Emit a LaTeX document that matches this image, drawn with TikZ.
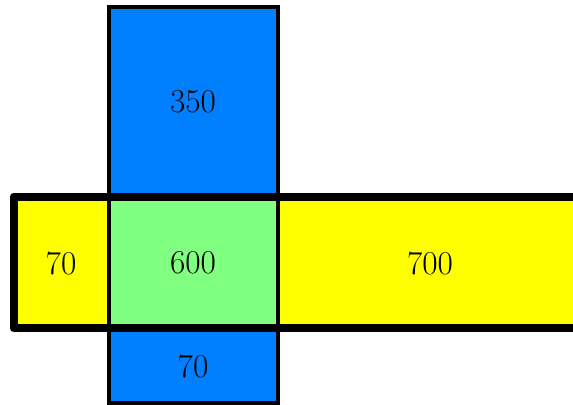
\documentclass[tikz,border=0pt]{standalone}
\definecolor{cblue}{RGB}{0,128,255}
\definecolor{cgreen}{RGB}{128,255,128}
\definecolor{cyellow}{RGB}{255,255,0}
\tikzset{
  lbl/.style={font=\fontsize{25}{30}\selectfont, text=black},
  thinbox/.style={draw=black, line width=3pt},
  bandbox/.style={draw=black, line width=6pt, line join=round},
}
\begin{document}
\begin{tikzpicture}[x=0.75pt,y=-0.75pt]
\useasboundingbox (0,0) rectangle (573,404);
\clip (0,0) rectangle (573,404);
% blue column
\fill[cblue] (108.5,6.5) rectangle (278,403);
\draw[thinbox] (108.5,6.5) rectangle (278,403);
% band pieces
\fill[cyellow] (13.5,196.5) rectangle (108.5,328);
\fill[cgreen] (108.5,196.5) rectangle (278,328);
\fill[cyellow] (278,196.5) rectangle (590,328);
\draw[thinbox] (108.5,196.5) -- (108.5,328);
\draw[thinbox] (278,196.5) -- (278,328);
\draw[bandbox] (13.5,196.5) rectangle (590,328);
% labels
\node[lbl] (a) at (193,102) {350};
\node[lbl] (b) at (61,263) {70};
\node[lbl] (c) at (193,263) {600};
\node[lbl] (d) at (430,263) {700};
\node[lbl] (e) at (193,366) {70};
\end{tikzpicture}
\end{document}
